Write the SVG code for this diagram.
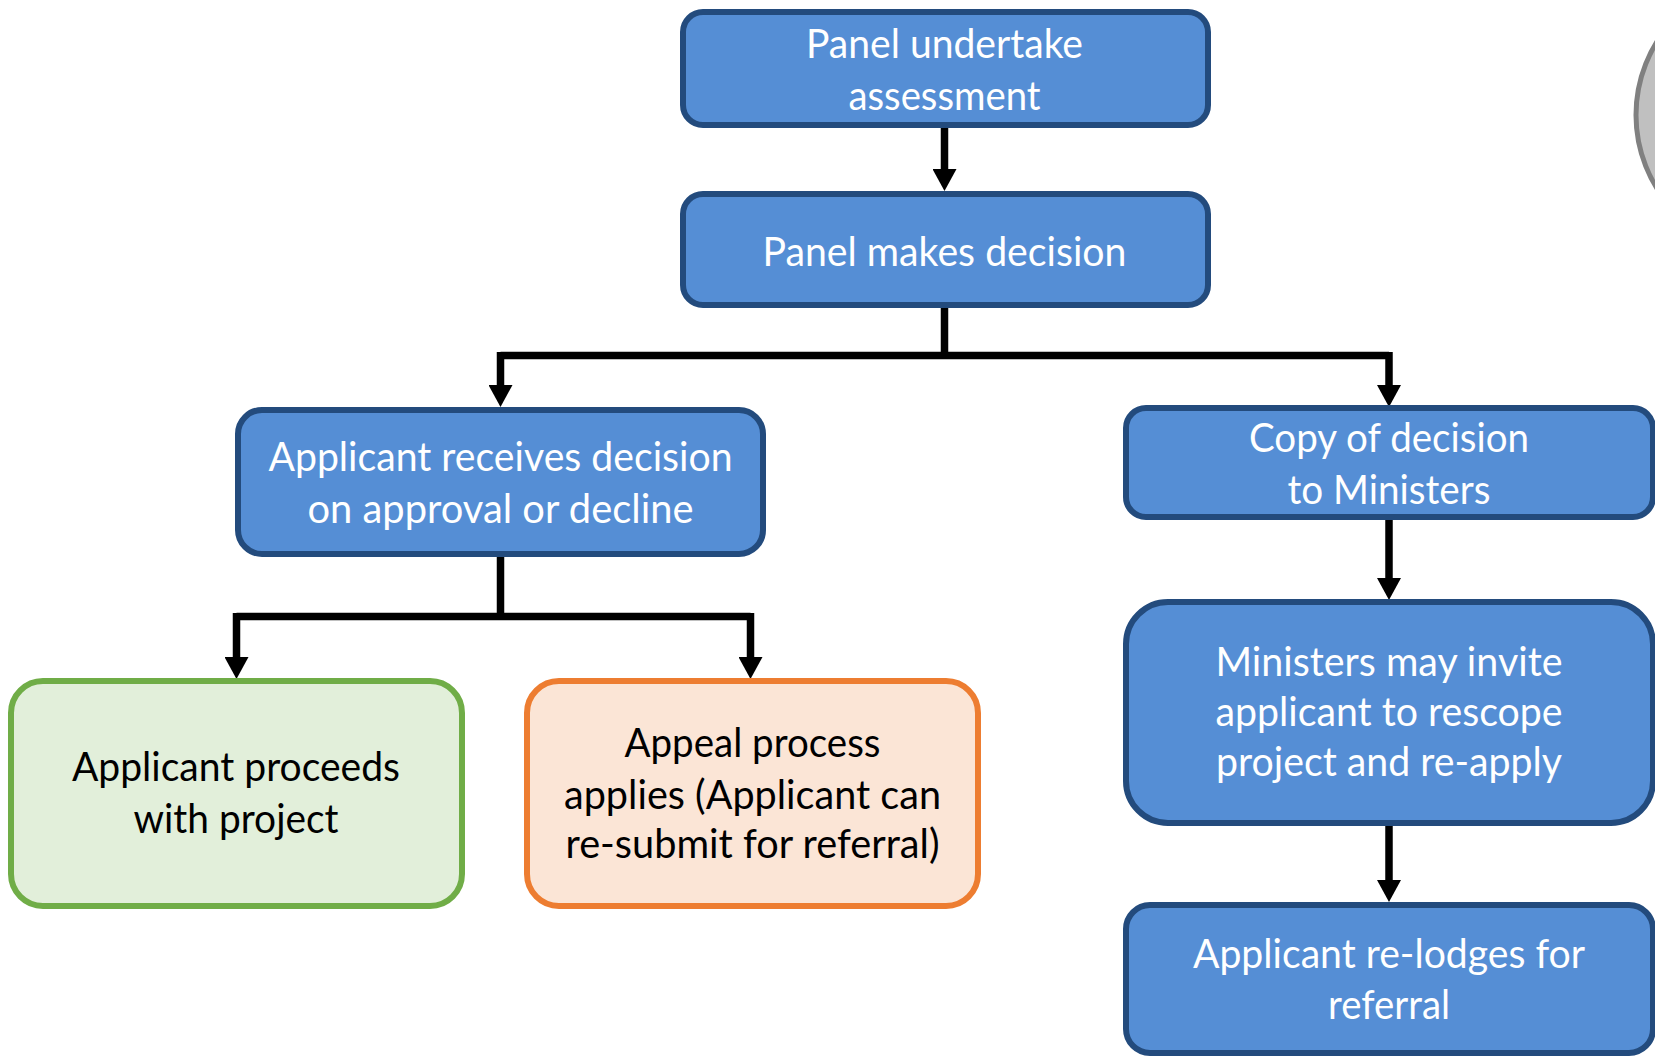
<svg xmlns="http://www.w3.org/2000/svg" width="1655" height="1059" viewBox="0 0 1655 1059">
<style>
.blue{fill:#558ED5;stroke:#234B7D;stroke-width:6}
.green{fill:#E2EFDA;stroke:#70AD47;stroke-width:6}
.orange{fill:#FBE5D6;stroke:#ED7D31;stroke-width:6}
.conn{fill:none;stroke:#000;stroke-width:7.5;stroke-linejoin:miter}
text{font-family:"Lato","Liberation Sans",sans-serif;font-size:40px;text-anchor:middle}
.w{fill:#fff}
.k{fill:#000}
</style>
<defs>
<marker id="ah" markerUnits="userSpaceOnUse" markerWidth="24" markerHeight="24" refX="0" refY="12" orient="auto" viewBox="0 0 24 24">
<path d="M0,0 L22,12 L0,24 z" fill="#000"/>
</marker>
</defs>
<g id="deco">
<circle cx="1775" cy="115" r="139" fill="#C0C0C0" stroke="#808080" stroke-width="5"/>
</g>
<g id="connectors">
<path class="conn" d="M944.5,128 V169" marker-end="url(#ah)"/>
<path class="conn" d="M944.5,308 V355.5"/>
<path class="conn" d="M500.5,355.5 H1389"/>
<path class="conn" d="M500.5,352 V385" marker-end="url(#ah)"/>
<path class="conn" d="M1389,352 V385" marker-end="url(#ah)"/>
<path class="conn" d="M1389,520 V578" marker-end="url(#ah)"/>
<path class="conn" d="M1389,825 V880" marker-end="url(#ah)"/>
<path class="conn" d="M500.5,557 V616.5"/>
<path class="conn" d="M236.5,616.5 H750.5"/>
<path class="conn" d="M236.5,613 V657" marker-end="url(#ah)"/>
<path class="conn" d="M750.5,613 V657" marker-end="url(#ah)"/>
</g>
<g id="n1">
<rect class="blue" x="683" y="12" width="525" height="113" rx="20"/>
<text class="w" x="944.5" y="58" textLength="277" lengthAdjust="spacingAndGlyphs">Panel undertake</text>
<text class="w" x="944.5" y="109.5" textLength="192" lengthAdjust="spacingAndGlyphs">assessment</text>
</g>
<g id="n2">
<rect class="blue" x="683" y="194" width="525" height="111" rx="20"/>
<text class="w" x="944.5" y="266" textLength="364" lengthAdjust="spacingAndGlyphs">Panel makes decision</text>
</g>
<g id="n3">
<rect class="blue" x="238" y="410" width="525" height="144" rx="24"/>
<text class="w" x="500.5" y="471" textLength="464" lengthAdjust="spacingAndGlyphs">Applicant receives decision</text>
<text class="w" x="500.5" y="522.5" textLength="386" lengthAdjust="spacingAndGlyphs">on approval or decline</text>
</g>
<g id="n4">
<rect class="blue" x="1126" y="408" width="527" height="109" rx="20"/>
<text class="w" x="1389" y="452" textLength="280" lengthAdjust="spacingAndGlyphs">Copy of decision</text>
<text class="w" x="1389" y="503.5" textLength="203" lengthAdjust="spacingAndGlyphs">to Ministers</text>
</g>
<g id="n5">
<rect class="green" x="11" y="681" width="451" height="225" rx="32"/>
<text class="k" x="236" y="781" textLength="328" lengthAdjust="spacingAndGlyphs">Applicant proceeds</text>
<text class="k" x="236" y="833" textLength="205" lengthAdjust="spacingAndGlyphs">with project</text>
</g>
<g id="n6">
<rect class="orange" x="527" y="681" width="451" height="225" rx="32"/>
<text class="k" x="752.5" y="757" textLength="256" lengthAdjust="spacingAndGlyphs">Appeal process</text>
<text class="k" x="752.5" y="808.5" textLength="377" lengthAdjust="spacingAndGlyphs">applies (Applicant can</text>
<text class="k" x="752.5" y="858" textLength="374" lengthAdjust="spacingAndGlyphs">re-submit for referral)</text>
</g>
<g id="n7">
<rect class="blue" x="1126" y="602" width="527" height="221" rx="42"/>
<text class="w" x="1389" y="675.5" textLength="347" lengthAdjust="spacingAndGlyphs">Ministers may invite</text>
<text class="w" x="1389" y="726" textLength="347" lengthAdjust="spacingAndGlyphs">applicant to rescope</text>
<text class="w" x="1389" y="775.5" textLength="346" lengthAdjust="spacingAndGlyphs">project and re-apply</text>
</g>
<g id="n8">
<rect class="blue" x="1126" y="905" width="527" height="148" rx="24"/>
<text class="w" x="1389" y="968" textLength="392" lengthAdjust="spacingAndGlyphs">Applicant re-lodges for</text>
<text class="w" x="1389" y="1018.5" textLength="122" lengthAdjust="spacingAndGlyphs">referral</text>
</g>
</svg>
